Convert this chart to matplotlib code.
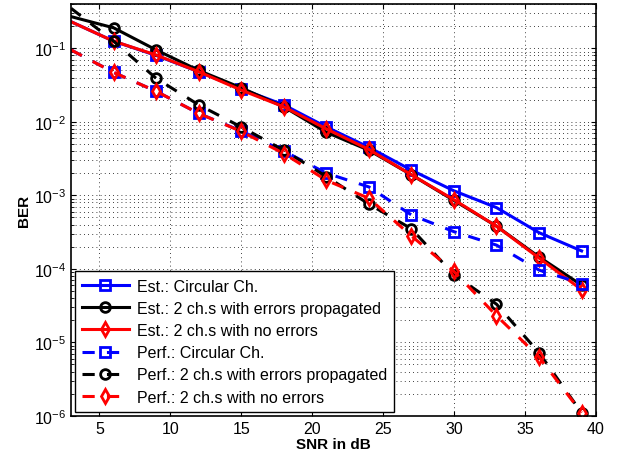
import matplotlib
matplotlib.use("Agg")
import matplotlib.pyplot as plt
from matplotlib.ticker import LogLocator, NullFormatter

plt.rcParams['font.family'] = ['Liberation Sans', 'DejaVu Sans']

snr = [3, 6, 9, 12, 15, 18, 21, 24, 27, 30, 33, 36, 39]

est_circ = [0.23, 0.125, 0.08, 0.048, 0.028, 0.017, 0.0085, 0.0045, 0.0022, 1.15e-3, 6.8e-4, 3.1e-4, 1.75e-4]
est_err = [0.27, 0.19, 0.095, 0.05, 0.029, 0.016, 0.0072, 0.0041, 0.0019, 8.5e-4, 3.8e-4, 1.45e-4, 6e-5]
est_noerr = [0.23, 0.125, 0.081, 0.048, 0.027, 0.016, 0.008, 0.0042, 0.0019, 8.7e-4, 3.8e-4, 1.4e-4, 5.2e-5]
perf_circ = [0.095, 0.047, 0.026, 0.013, 0.0075, 0.004, 0.002, 0.0013, 5.4e-4, 3.2e-4, 2.1e-4, 9.6e-5, 6.3e-5]
perf_err = [0.35, 0.125, 0.039, 0.017, 0.0085, 0.0041, 0.0018, 7.6e-4, 3.5e-4, 8.3e-5, 3.3e-5, 7.2e-6, 1.1e-6]
perf_noerr = [0.095, 0.047, 0.026, 0.013, 0.0074, 0.0037, 0.0016, 9.1e-4, 2.8e-4, 9.2e-5, 2.3e-5, 6.3e-6, 1.1e-6]

series = [
    (est_circ, 'b', '-', 's', 'Est.: Circular Ch.'),
    (est_err, 'k', '-', 'o', 'Est.: 2 ch.s with errors propagated'),
    (est_noerr, 'r', '-', 'd', 'Est.: 2 ch.s with no errors'),
    (perf_circ, 'b', '--', 's', 'Perf.: Circular Ch.'),
    (perf_err, 'k', '--', 'o', 'Perf.: 2 ch.s with errors propagated'),
    (perf_noerr, 'r', '--', 'd', 'Perf.: 2 ch.s with no errors'),
]

fig = plt.figure(figsize=(6.18, 4.6), dpi=100)
ax = fig.add_axes([0.115, 0.094, 0.849, 0.895])

for vals, c, ls, m, lab in series:
    ax.semilogy(snr, vals, color=c, linestyle=ls, marker=m, markersize=7,
                markerfacecolor='none', markeredgewidth=2, linewidth=2.2,
                markevery=slice(1, None), dashes=(4, 4) if ls == '--' else (None, None),
                label=lab)

ax.set_xlim(3, 40)
ax.set_ylim(1e-6, 0.4)
ax.set_xticks(range(5, 41, 5))
ax.yaxis.set_minor_locator(LogLocator(base=10, subs=range(2, 10), numticks=20))
ax.yaxis.set_minor_formatter(NullFormatter())
ax.grid(True, which='major', linestyle=(0, (1, 4)), color='k', linewidth=0.6)
ax.grid(True, which='minor', axis='y', linestyle=(0, (1, 4)), color='k', linewidth=0.6)
ax.tick_params(which='both', direction='in', top=True, right=True, labelsize=11.5)
for s in ax.spines.values():
    s.set_linewidth(1.2)

ax.set_xlabel('SNR in dB', fontweight='bold', fontsize=11, labelpad=1)
ax.set_ylabel('BER', fontweight='bold', fontsize=11, labelpad=2)

leg = ax.legend(loc='lower left', fontsize=11.5, fancybox=False, edgecolor='k',
                framealpha=1, handlelength=2.9, handletextpad=0.5, borderpad=0.45,
                labelspacing=0.45, borderaxespad=0.25, numpoints=1)
leg.get_frame().set_linewidth(1.0)

fig.savefig('out.png', dpi=100)
